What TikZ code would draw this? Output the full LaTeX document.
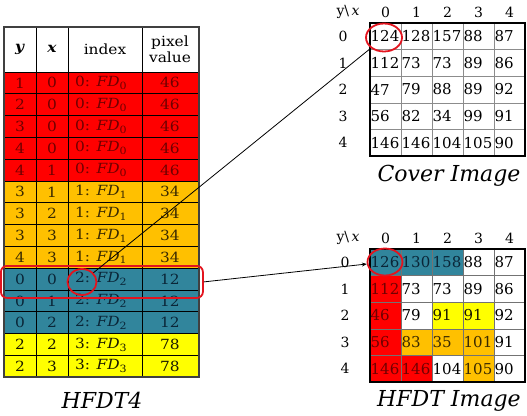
\documentclass[tikz,border=0pt]{standalone}
\usepackage{fontspec}
\setmainfont{DejaVu Serif}
\newfontfamily\tabfont{DejaVu Serif}[FakeStretch=1.1]
\usetikzlibrary{shapes.geometric,arrows.meta}
\definecolor{fred}{HTML}{FF0000}
\definecolor{forange}{HTML}{FFC000}
\definecolor{fteal}{HTML}{31859C}
\definecolor{fyellow}{HTML}{FFFF00}
\definecolor{fwhite}{HTML}{FFFFFF}
\definecolor{tred}{HTML}{700000}
\definecolor{torange}{HTML}{3A2A00}
\definecolor{tteal}{HTML}{0A2638}
\definecolor{tyellow}{HTML}{1A1A00}
\definecolor{twhite}{HTML}{000000}
\definecolor{circ}{HTML}{E3141E}
\newcommand\fdx[1]{\textit{FD}\raisebox{-0.4ex}{\fontsize{10}{10}\selectfont #1}}
\tikzset{
  tabtxt/.style={font=\tabfont\fontsize{14}{15}\selectfont, inner sep=0},
  gridtxt/.style={font=\fontsize{15}{16}\selectfont, inner sep=0},
  lbltxt/.style={font=\fontsize{14}{15}\selectfont, inner sep=0},
  captxt/.style={font=\fontsize{22}{24}\selectfont\itshape, inner sep=0},
  redmark/.style={draw=circ, line width=1.8},
  ringmark/.style={ellipse, redmark, inner sep=0},
  conn/.style={line width=0.8, draw=black}
}
\begin{document}
\begin{tikzpicture}[x=1pt,y=-1pt]
\useasboundingbox (0,0) rectangle (527,415);
% ---------- table ----------
\def\rh{21.8}
\foreach \i/\yy/\xx/\k/\v/\c in {
 1/1/0/0/46/red, 2/2/0/0/46/red, 3/3/0/0/46/red, 4/4/0/0/46/red, 5/4/1/0/46/red,
 6/3/1/1/34/orange, 7/3/2/1/34/orange, 8/3/3/1/34/orange, 9/4/3/1/34/orange,
 10/0/0/2/12/teal, 11/0/1/2/12/teal, 12/0/2/2/12/teal,
 13/2/2/3/78/yellow, 14/2/3/3/78/yellow}{
  \pgfmathsetmacro\top{72+(\i-1)*\rh}
  \pgfmathsetmacro\mid{\top+\rh/2}
  \fill[f\c] (4,\top) rectangle (199,\top+\rh);
  \node[tabtxt, text=t\c] (ry\i) at (20,\mid) {\yy};
  \node[tabtxt, text=t\c] (rx\i) at (52,\mid) {\xx};
  \node[tabtxt, text=t\c, anchor=west] (rk\i) at (75,\mid) {\k: \fdx{\k}};
  \node[tabtxt, text=t\c] (rv\i) at (170,\mid) {\v};
}
\foreach \i in {0,...,13}{
  \draw[line width=0.7] (4,72+\i*\rh) -- (199,72+\i*\rh);
}
\foreach \xv in {36,68,142}{
  \draw[line width=0.7] (\xv,27) -- (\xv,377);
}
\draw[line width=1.2, black!75] (4,27) rectangle (199,377);
\node[tabtxt] (hy) at (20,49) {\textbf{\textit{y}}};
\node[tabtxt] (hx) at (52,49) {\textbf{\textit{x}}};
\node[tabtxt] (hk) at (105,49) {index};
\node[tabtxt, align=center, font=\tabfont\fontsize{14}{16}\selectfont] (hv) at (170,49) {pixel\\value};
\node[captxt] (cap0) at (102,400) {HFDT4};
% ---------- cover image ----------
\def\cw{31}\def\ch{26.6}
\foreach \row [count=\r from 0] in {{124,128,157,88,87},{112,73,73,89,86},{47,79,88,89,92},{56,82,34,99,91},{146,146,104,105,90}}{
  \foreach \val [count=\c from 0] in \row {
    \node[gridtxt, anchor=west] (cv\r\c) at (370+\c*\cw+0.5,23+\r*\ch+\ch/2) {\val};
  }
}
\foreach \i in {1,...,4}{
  \draw[line width=0.6, black!45] (370+\i*\cw,23) -- (370+\i*\cw,156);
  \draw[line width=0.6, black!45] (370,23+\i*\ch) -- (525,23+\i*\ch);
}
\draw[line width=1.6] (370,23) rectangle (525,156);
\node[lbltxt] (cyx) at (348,12) {y\textbackslash\,\textit{x}};
\foreach \i in {0,...,4}{
  \node[lbltxt] (cc\i) at (385.5+\i*\cw,12) {\i};
  \node[lbltxt] (cr\i) at (343,23+\i*\ch+\ch/2) {\i};
}
\node[captxt] (cap1) at (449,176) {Cover Image};
% ---------- HFDT image ----------
\foreach \row [count=\r from 0] in {{126/teal,130/teal,158/teal,88/white,87/white},{112/red,73/white,73/white,89/white,86/white},{46/red,79/white,91/yellow,91/yellow,92/white},{56/red,83/orange,35/orange,101/orange,91/white},{146/red,146/red,104/white,105/orange,90/white}}{
  \foreach \val/\col [count=\c from 0] in \row {
    \fill[f\col] (370+\c*\cw,249+\r*\ch) rectangle ++(\cw,\ch);
    \node[gridtxt, anchor=west, text=t\col] (hv\r\c) at (370+\c*\cw+0.5,249+\r*\ch+\ch/2) {\val};
  }
}
\foreach \i in {1,...,4}{
  \draw[line width=0.6, black!55] (370+\i*\cw,249) -- (370+\i*\cw,382);
  \draw[line width=0.6, black!55] (370,249+\i*\ch) -- (525,249+\i*\ch);
}
\draw[line width=1.6] (370,249) rectangle (525,382);
\node[lbltxt] (hyx) at (348,238) {y\textbackslash\,\textit{x}};
\foreach \i in {0,...,4}{
  \node[lbltxt] (hc\i) at (385.5+\i*\cw,238) {\i};
  \node[lbltxt] (hr\i) at (345,249+\i*\ch+\ch/2) {\i};
}
\node[captxt] (cap2) at (449,401) {HFDT Image};
% ---------- marks and connectors ----------
\node[redmark, rounded corners=6, minimum width=202, minimum height=32, anchor=north west, inner sep=0] (sel) at (0,265) {};
\node[ringmark, minimum width=29, minimum height=26] (s1) at (82,282) {};
\node[ringmark, minimum width=36, minimum height=28] (c1) at (384,37.5) {};
\node[ringmark, minimum width=35, minimum height=27] (c3) at (385,262) {};
\draw[conn] (s1) -- (c1);
\draw[conn, -{Stealth[length=5,width=4]}] (sel.east) -- (c3);
\end{tikzpicture}
\end{document}
